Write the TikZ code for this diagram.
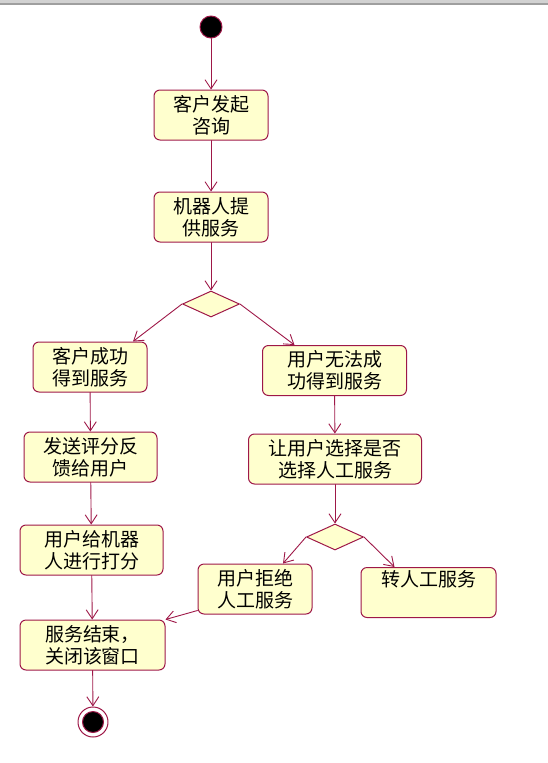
\documentclass[tikz,border=0pt]{standalone}
\usepackage{fontspec}
\newfontfamily\cjk{Noto Sans CJK SC}
\usetikzlibrary{arrows.meta,shapes.geometric}
\definecolor{umlline}{RGB}{158,24,72}
\definecolor{umlfill}{RGB}{255,255,206}
\tikzset{
  act/.style={draw=umlline,fill=umlfill,line width=1pt,rounded corners=6pt,
    align=center,inner sep=0pt,minimum height=50pt,
    font=\cjk\fontsize{19}{22}\selectfont},
  branch/.style={diamond,draw=umlline,fill=umlfill,line width=1pt,
    inner sep=0pt,minimum width=57pt,minimum height=26pt},
  flow/.style={draw=umlline,line width=0.9pt,-{Straight Barb[length=9pt,width=12pt]}},
}
\begin{document}
\begin{tikzpicture}[x=1pt,y=-1pt,line cap=round,line join=round]
  \useasboundingbox (0,0) rectangle (548,763);
  \fill[gray!35] (0,0) rectangle (548,2.5);
  \fill[gray!75] (0,2.5) rectangle (548,5);
  % start and main line
  \node[circle,draw=umlline,fill=black,line width=1pt,minimum size=22pt,inner sep=0pt] (start) at (211,27) {};
  \node[act,minimum width=114pt] (ask) at (211,115) {客户发起\\咨询};
  \node[act,minimum width=114pt] (robot) at (211,217) {机器人提\\供服务};
  \node[branch] (ok) at (211,304) {};
  % left branch
  \node[act,minimum width=114pt] (served) at (90,367) {客户成功\\得到服务};
  \node[act,minimum width=133pt] (feedback) at (90.5,457) {发送评分反\\馈给用户};
  \node[act,minimum width=143pt] (rate) at (91.5,550) {用户给机器\\人进行打分};
  \node[act,minimum width=145pt] (close) at (92.5,645) {服务结束，\\关闭该窗口};
  \node[circle,draw=umlline,line width=1pt,minimum size=30pt,inner sep=0pt] (stop) at (93,722) {};
  \fill[black,draw=umlline,line width=1pt] (stop.center) circle[radius=10.5pt];
  % right branch
  \node[act,minimum width=144pt] (failed) at (334.5,370.5) {用户无法成\\功得到服务};
  \node[act,minimum width=173pt] (choose) at (335,459) {让用户选择是否\\选择人工服务};
  \node[branch] (human) at (335,537) {};
  \node[act,minimum width=114pt] (refuse) at (255,589) {用户拒绝\\人工服务};
  \node[act,minimum width=135pt] (transfer) at (428.5,592.5) {转人工服务\\\strut};
  % connectors
  \draw[flow] (start) -- (ask);
  \draw[flow] (ask) -- (robot);
  \draw[flow] (robot) -- (ok);
  \draw[flow] (ok.west) -- ([xshift=43pt]served.north);
  \draw[flow] (ok.east) -- ([xshift=-40pt]failed.north);
  \draw[flow] (served) -- (feedback);
  \draw[flow] (feedback) -- (rate);
  \draw[flow] (rate) -- (close);
  \draw[flow] (close) -- (stop);
  \draw[flow] (failed) -- (choose);
  \draw[flow] (choose) -- (human);
  \draw[flow] (human.west) -- ([xshift=28pt]refuse.north);
  \draw[flow] (human.east) -- ([xshift=-34pt]transfer.north);
  \draw[flow] ([yshift=4pt]refuse.south west) -- (close.north east);
\end{tikzpicture}
\end{document}
